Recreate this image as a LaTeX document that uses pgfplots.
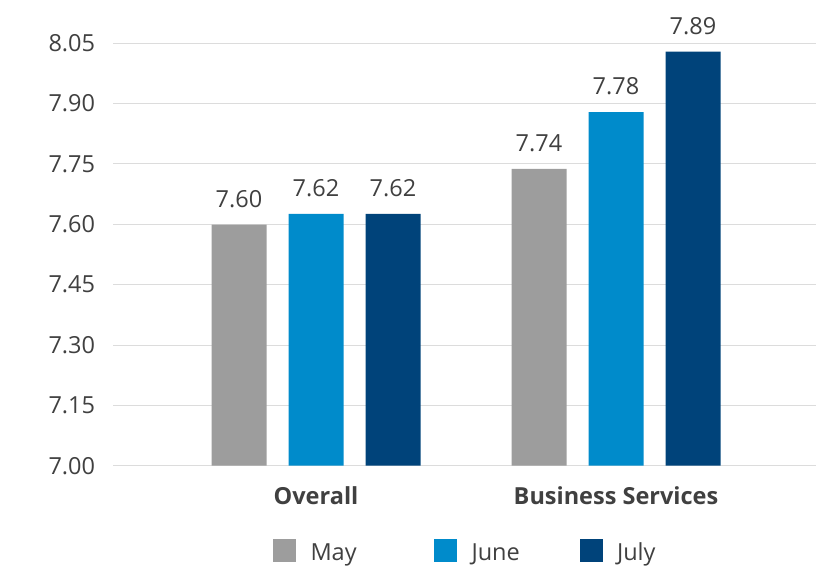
\documentclass[border=0pt]{standalone}
\usepackage{fontspec}
\setmainfont{Open Sans}
\usepackage{pgfplots}
\pgfplotsset{compat=1.18}
\usepackage{pgfplotstable}
\definecolor{cMay}{HTML}{9D9D9D}
\definecolor{cJune}{HTML}{008BCB}
\definecolor{cJuly}{HTML}{00437A}
\definecolor{txt}{HTML}{404040}
\definecolor{grd}{HTML}{DCDCDC}
\newcommand{\fs}{\fontsize{23.5bp}{28bp}\selectfont}
\pgfplotstableread{
x y lab
0 7.599 7.60
1 7.738 7.74
}\tmay
\pgfplotstableread{
x y lab
0 7.626 7.62
1 7.879 7.78
}\tjune
\pgfplotstableread{
x y lab
0 7.626 7.62
1 8.029 7.89
}\tjuly
\begin{document}
\begin{tikzpicture}
\useasboundingbox (-113.3bp,-106.3bp) rectangle (718.7bp,465.7bp);
\begin{axis}[
  scale only axis, width=702.4bp, height=422.4bp,
  xmin=-0.6757, xmax=1.6657, ymin=7, ymax=8.05,
  ybar=22bp, bar width=55bp,
  clip mode=individual,
  axis line style={draw=none},
  major tick length=0pt,
  ymajorgrids, grid style={draw=grd, line width=1bp},
  ytick={7,7.15,7.3,7.45,7.6,7.75,7.9,8.05},
  /pgf/number format/assume math mode=true,
  yticklabel style={/pgf/number format/fixed, /pgf/number format/fixed zerofill, /pgf/number format/precision=2},
  yticklabel style={font=\fs, text=txt, inner sep=0pt, xshift=-18bp},
  xtick={0,1}, xticklabels={Overall, Business Services},
  xticklabel style={font=\fs\bfseries, text=txt, inner sep=0pt, yshift=-21bp},
  point meta=explicit symbolic,
  nodes near coords,
  every node near coord/.append style={font=\fs, text=txt, inner sep=0pt, anchor=south, yshift=17bp},
  legend columns=3,
  legend image code/.code={\fill[#1] (0bp,-11.5bp) rectangle (23bp,11.5bp); \path (37.5bp,0bp);},
  legend style={at={(axis description cs:0.2274,-0.1728)}, anchor=north west, draw=none, fill=none,
    inner sep=0pt, outer sep=0pt, font=\fs, text=txt, column sep=0pt,
    /tikz/every even column/.style={column sep=0pt},
    /tikz/every odd column/.style={column sep=0pt},
    nodes={inner sep=0pt}},
]
\addplot[fill=cMay, draw=none] table[x=x, y=y, meta=lab] {\tmay};
\addlegendentry{\makebox[123.5bp][l]{\raisebox{-5bp}{May}}}
\addplot[fill=cJune, draw=none] table[x=x, y=y, meta=lab] {\tjune};
\addlegendentry{\makebox[108bp][l]{\raisebox{-5bp}{June}}}
\addplot[fill=cJuly, draw=none] table[x=x, y=y, meta=lab] {\tjuly};
\addlegendentry{\raisebox{-5bp}{July}}
\end{axis}
\end{tikzpicture}
\end{document}
